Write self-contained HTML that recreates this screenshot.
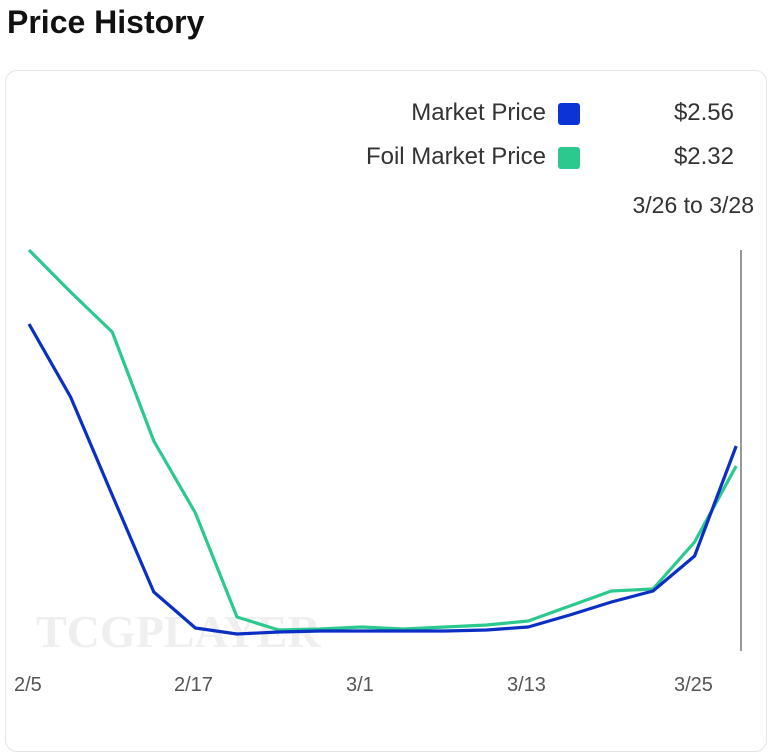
<!DOCTYPE html>
<html><head><style>
body{margin:0;width:774px;height:706px;background:#fff;font-family:"Liberation Sans",sans-serif;overflow:hidden;position:relative}
.t{position:absolute;left:7px;top:4px;font-size:32px;font-weight:bold;color:#111;letter-spacing:0px}
.card{position:absolute;left:5px;top:70px;width:760px;height:680px;border:1px solid #e4e4e4;border-radius:12px}
.l{position:absolute;font-size:24px;color:#333}
.sw{position:absolute;width:22px;height:22px;border-radius:3px}
.x{position:absolute;top:674px;font-size:20px;color:#555}
</style></head><body>
<div class="t">Price History</div>
<div class="card"></div>
<div class="l" style="right:228px;top:99px">Market Price</div>
<div class="sw" style="left:558px;top:103px;background:#0b33d6"></div>
<div class="l" style="right:40px;top:99px">$2.56</div>
<div class="l" style="right:228px;top:143px">Foil Market Price</div>
<div class="sw" style="left:558px;top:147px;background:#2cc98f"></div>
<div class="l" style="right:40px;top:143px">$2.32</div>
<div class="l" style="right:20px;top:192px;font-size:23px">3/26 to 3/28</div>
<div style="position:absolute;left:36px;top:605px;font-family:'Liberation Serif',serif;font-weight:bold;font-size:46px;color:#efefef">TCGPLAYER</div>
<svg width="774" height="706" style="position:absolute;left:0;top:0">
<line x1="741" y1="250" x2="741" y2="651" stroke="#777" stroke-width="1.5"/>
<polyline fill="none" stroke="#2cc98f" stroke-width="3.2" stroke-linejoin="round" points="29,250 70.6,292 112.2,332 153.8,441 195.4,513 237,617 278.6,630 320.2,629 361.8,627 403.4,629 445,627 486.6,625 528.2,621 569.8,606 611.4,591 653,589 694.6,542 736.2,466"/>
<polyline fill="none" stroke="#0b2fc4" stroke-width="3.2" stroke-linejoin="round" points="29,324 70.6,397 112.2,495 153.8,592 195.4,628 237,634 278.6,632 320.2,631 361.8,631 403.4,631 445,631 486.6,630 528.2,627 569.8,615 611.4,602 653,591 694.6,556 736.2,446"/>
</svg>
<div class="x" style="left:14px">2/5</div>
<div class="x" style="left:174px">2/17</div>
<div class="x" style="left:346px">3/1</div>
<div class="x" style="left:507px">3/13</div>
<div class="x" style="left:674px">3/25</div>
</body></html>
